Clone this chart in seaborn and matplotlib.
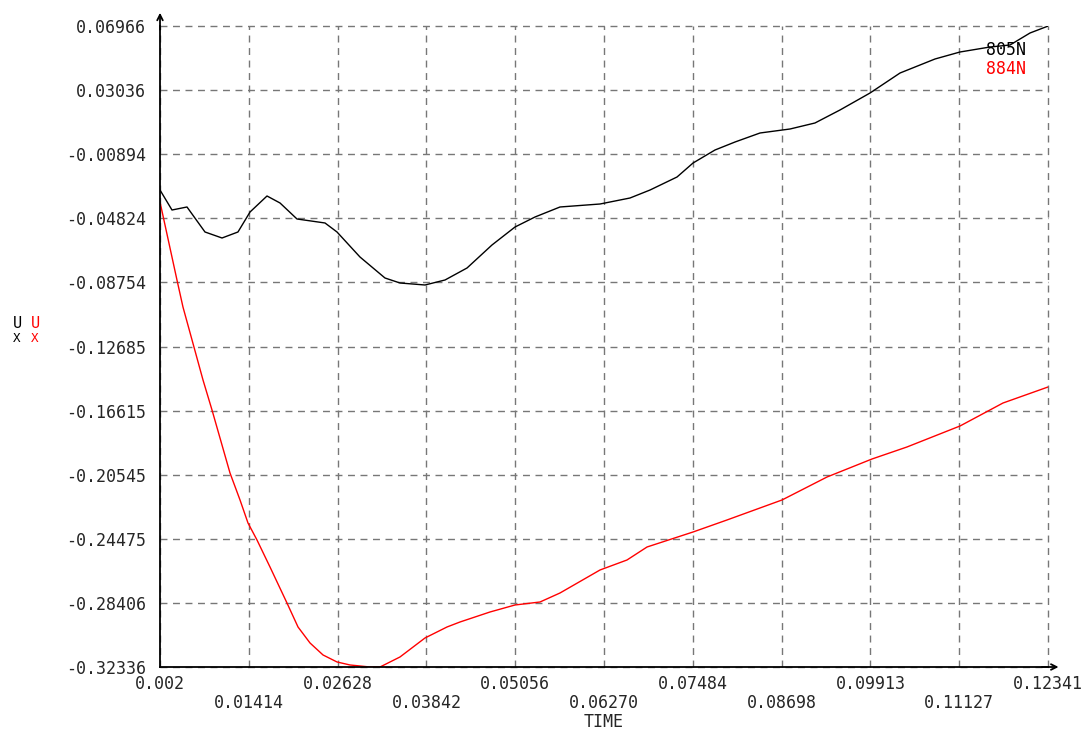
import numpy as np
import pandas as pd
import seaborn as sns
import matplotlib
matplotlib.use("Agg")
import matplotlib.pyplot as plt

# curve 805N (black)
time_805 = [0.0020, 0.00364, 0.00569, 0.00815, 0.01048, 0.01266, 0.01431, 0.01663,
            0.01841, 0.02073, 0.02456, 0.02620, 0.02934, 0.03276, 0.03481, 0.03823,
            0.04097, 0.04398, 0.04739, 0.05054, 0.05327, 0.05669, 0.06216, 0.06626,
            0.06900, 0.07269, 0.07488, 0.07788, 0.08062, 0.08404, 0.08814, 0.09155,
            0.09497, 0.09908, 0.10318, 0.10796, 0.11138, 0.11548, 0.11822, 0.12095,
            0.12341]
ux_805 = [-0.0309, -0.04316, -0.04131, -0.05664, -0.06032, -0.05664, -0.04438, -0.03457,
          -0.03886, -0.04867, -0.05112, -0.05664, -0.07197, -0.08485, -0.08791, -0.08914,
          -0.08607, -0.07871, -0.06461, -0.05358, -0.04745, -0.04131, -0.03948, -0.0358,
          -0.0309, -0.02292, -0.01434, -0.00637, -0.00146, 0.00406, 0.00651, 0.01019,
          0.01816, 0.02858, 0.04084, 0.04943, 0.05372, 0.05678, 0.05801, 0.06537,
          0.0696]

# curve 884N (red)
time_884 = [0.0020, 0.00432, 0.00514, 0.00638, 0.00788, 0.00911, 0.01157, 0.01294,
            0.01403, 0.01526, 0.01704, 0.01936, 0.02087, 0.02251, 0.02429, 0.02620,
            0.02798, 0.03071, 0.03208, 0.03481, 0.03823, 0.04124, 0.04302, 0.04712,
            0.05054, 0.05396, 0.05669, 0.06216, 0.06585, 0.06859, 0.07488, 0.07952,
            0.08704, 0.09320, 0.09935, 0.10413, 0.11138, 0.11726, 0.12341]
ux_884 = [-0.03825, -0.08607, -0.10263, -0.12286, -0.14739, -0.16578, -0.20441, -0.22096,
          -0.23506, -0.24548, -0.26204, -0.28411, -0.29883, -0.30863, -0.31599, -0.32028,
          -0.32212, -0.32336, -0.32336, -0.31722, -0.30557, -0.29883, -0.29576, -0.28963,
          -0.28534, -0.2835, -0.27798, -0.26388, -0.25775, -0.24978, -0.24058, -0.23322,
          -0.22096, -0.20686, -0.19582, -0.18846, -0.17559, -0.16149, -0.15168]

x_ticks = ["0.002", "0.01414", "0.02628", "0.03842", "0.05056", "0.06270",
           "0.07484", "0.08698", "0.09913", "0.11127", "0.12341"]
y_ticks = ["0.06966", "0.03036", "-0.00894", "-0.04824", "-0.08754", "-0.12685",
           "-0.16615", "-0.20545", "-0.24475", "-0.28406", "-0.32336"]

df = pd.concat([
    pd.DataFrame({"TIME": time_805, "UX": ux_805, "node": "805N"}),
    pd.DataFrame({"TIME": time_884, "UX": ux_884, "node": "884N"}),
])

sns.set_style("white")
plt.rcParams["font.family"] = ["DejaVu Sans Mono"]

fig = plt.figure(figsize=(10.91, 7.31), dpi=100)
ax = fig.add_axes([160 / 1091, 1 - 667 / 731, 888 / 1091, 641 / 731])

sns.lineplot(data=df, x="TIME", y="UX", hue="node", palette=["black", "red"],
             linewidth=1.0, legend=False, sort=False, estimator=None, ax=ax)

xv = [float(t) for t in x_ticks]
yv = [float(t) for t in y_ticks]
ax.set_xlim(xv[0], xv[-1])
ax.set_ylim(yv[-1], yv[0])
ax.set_xticks(xv)
ax.set_xticklabels([t if i % 2 == 0 else "\n" + t for i, t in enumerate(x_ticks)])
ax.set_yticks(yv)
ax.set_yticklabels(y_ticks)
ax.tick_params(axis="x", direction="out", length=9, width=1.3, labelsize=12, pad=-3)
ax.tick_params(axis="y", direction="inout", length=8, width=1.3, labelsize=12, pad=6)
for lab in ax.get_xticklabels():
    lab.set_linespacing(1.05)

ax.grid(True, color="#777777", linestyle=(0, (5, 4)), linewidth=1.0)
for gl in ax.get_xgridlines() + ax.get_ygridlines():
    gl.set_clip_on(False)
for s in ["top", "right"]:
    ax.spines[s].set_visible(False)
for s in ["left", "bottom"]:
    ax.spines[s].set_color("black")
    ax.spines[s].set_linewidth(1.3)
    ax.spines[s].set_zorder(3)

# axis arrows
ax.annotate("", xy=(0, 1.025), xytext=(0, 0.99), xycoords="axes fraction",
            arrowprops=dict(arrowstyle="->", color="black", lw=1.3), annotation_clip=False)
ax.annotate("", xy=(1.015, 0), xytext=(0.99, 0), xycoords="axes fraction",
            arrowprops=dict(arrowstyle="->", color="black", lw=1.3), annotation_clip=False)

ax.set_xlabel("")
ax.set_ylabel("")
fig.text(604 / 1091, 1 - 722 / 731, "TIME", fontsize=12, ha="center", va="center")

# node labels
ax.text(0.93, 0.955, "805N", transform=ax.transAxes, fontsize=12, color="black", ha="left")
ax.text(0.93, 0.925, "884N", transform=ax.transAxes, fontsize=12, color="red", ha="left")

# y label U over X, black and red
fig.text(17 / 1091, 1 - 324 / 731, "U", fontsize=11, color="black", ha="center", va="center")
fig.text(17 / 1091, 1 - 338 / 731, "X", fontsize=9, color="black", ha="center", va="center")
fig.text(35 / 1091, 1 - 324 / 731, "U", fontsize=11, color="red", ha="center", va="center")
fig.text(35 / 1091, 1 - 338 / 731, "X", fontsize=9, color="red", ha="center", va="center")

fig.savefig("out.png", dpi=100)
